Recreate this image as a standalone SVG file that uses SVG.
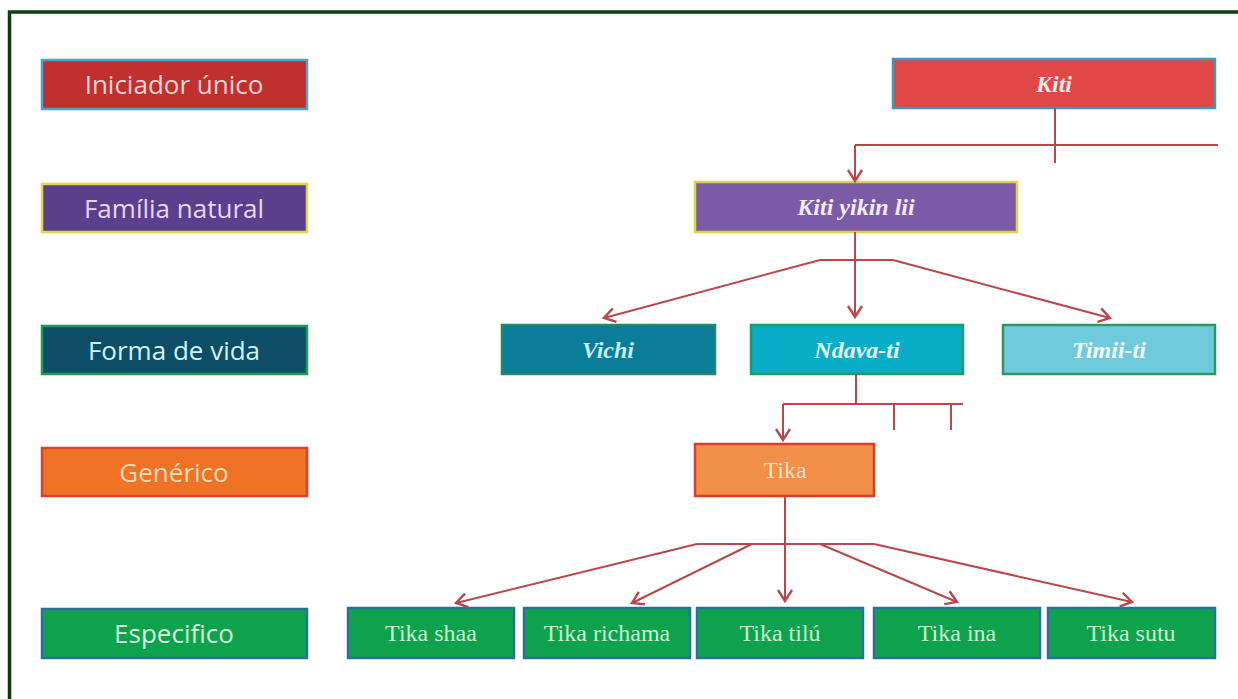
<svg xmlns="http://www.w3.org/2000/svg" width="1238" height="699" viewBox="0 0 1238 699">
<style>
.lbl{font-family:"Open Sans",Lato,"Liberation Sans",sans-serif;font-size:26px;text-anchor:middle;dominant-baseline:central}
.bi{font-family:"Liberation Serif","DejaVu Serif",serif;font-size:24px;font-weight:bold;font-style:italic;text-anchor:middle;dominant-baseline:central}
.sp{font-family:"Liberation Serif","DejaVu Serif",serif;font-size:24px;text-anchor:middle;dominant-baseline:central;fill:#c8f2d4}
.box{stroke-width:2.5}
.green{fill:#0fa24c;stroke:#2b6f9c}
.con path{fill:none;stroke:#b9474b;stroke-width:2}
</style>
<defs>
<marker id="ah" markerUnits="userSpaceOnUse" markerWidth="18" markerHeight="18" refX="14" refY="9" orient="auto">
<path d="M3,2 L14,9 L3,16" fill="none" stroke="#b9474b" stroke-width="2.4"/>
</marker>
</defs>
<rect x="0" y="0" width="1238" height="699" fill="#ffffff"/>
<rect x="9.5" y="12" width="1240" height="700" fill="none" stroke="#0b3d12" stroke-width="3.5"/>

<g id="legend-iniciador"><rect class="box" x="42" y="60" width="265" height="49" fill="#c0302f" stroke="#4aa3cc"/><text class="lbl" x="174" y="84" fill="#f8d4d2">Iniciador único</text></g>
<g id="legend-familia"><rect class="box" x="42" y="184" width="265" height="48" fill="#5a3f8c" stroke="#e0d84a"/><text class="lbl" x="174" y="208" fill="#e6d6f4">Família natural</text></g>
<g id="legend-forma"><rect class="box" x="42" y="326" width="265" height="48" fill="#0e4d66" stroke="#1d9a5a"/><text class="lbl" x="174" y="350" fill="#d2f2fa">Forma de vida</text></g>
<g id="legend-generico"><rect class="box" x="42" y="448" width="265" height="48" fill="#f07224" stroke="#e0402c"/><text class="lbl" x="174" y="472" fill="#fcdcb8">Genérico</text></g>
<g id="legend-especifico"><rect class="box" x="42" y="609" width="265" height="49" fill="#0fa24c" stroke="#2b6f9c"/><text class="lbl" x="174" y="633" fill="#d4f4dc">Especifico</text></g>

<g id="kiti"><rect class="box" x="893" y="59" width="322" height="49" fill="#e04848" stroke="#3a9bb4"/><text class="bi" x="1054" y="84" fill="#faeaea">Kiti</text></g>
<g id="kiti-yikin-lii"><rect class="box" x="695" y="182" width="322" height="50" fill="#7b5aa8" stroke="#dcd440"/><text class="bi" x="856" y="207" fill="#f4ecfa">Kiti yikin lii</text></g>
<g id="vichi"><rect class="box" x="502" y="325" width="213" height="49" fill="#0a7d98" stroke="#1f8a6a"/><text class="bi" x="608" y="350" fill="#c8eef8">Vichi</text></g>
<g id="ndava-ti"><rect class="box" x="751" y="325" width="212" height="49" fill="#0aadc8" stroke="#1f9a6a"/><text class="bi" x="857" y="350" fill="#e2f8ff">Ndava-ti</text></g>
<g id="timii-ti"><rect class="box" x="1003" y="325" width="212" height="49" fill="#6fcbdc" stroke="#2a9a62"/><text class="bi" x="1109" y="350" fill="#f2fcff">Timii-ti</text></g>
<g id="tika"><rect class="box" x="695" y="444" width="179" height="52" fill="#f28f48" stroke="#d4402a"/><text x="785" y="470" font-family="'Liberation Serif',serif" font-size="24" text-anchor="middle" dominant-baseline="central" fill="#fce0c4">Tika</text></g>

<g id="tika-shaa"><rect class="box green" x="348" y="608" width="166" height="50"/><text class="sp" x="431" y="633">Tika shaa</text></g>
<g id="tika-richama"><rect class="box green" x="524" y="608" width="166" height="50"/><text class="sp" x="607" y="633">Tika richama</text></g>
<g id="tika-tilu"><rect class="box green" x="697" y="608" width="166" height="50"/><text class="sp" x="780" y="633">Tika tilú</text></g>
<g id="tika-ina"><rect class="box green" x="874" y="608" width="166" height="50"/><text class="sp" x="957" y="633">Tika ina</text></g>
<g id="tika-sutu"><rect class="box green" x="1048" y="608" width="167" height="50"/><text class="sp" x="1131" y="633">Tika sutu</text></g>

<g id="connectors" class="con">
<path d="M1055,108 V163"/>
<path d="M855,145 H1218"/>
<path d="M855,145 V181" marker-end="url(#ah)"/>
<path d="M855,232 V317" marker-end="url(#ah)"/>
<path d="M820,260 H893"/>
<path d="M820,260 L604,318" marker-end="url(#ah)"/>
<path d="M893,260 L1110,318" marker-end="url(#ah)"/>
<path d="M856,374 V404"/>
<path d="M783,404 H963"/>
<path d="M894,404 V430"/>
<path d="M951,404 V430"/>
<path d="M783,404 V440" marker-end="url(#ah)"/>
<path d="M785,496 V601" marker-end="url(#ah)"/>
<path d="M697,544 H874"/>
<path d="M697,544 L456,603" marker-end="url(#ah)"/>
<path d="M752,544 L632,603" marker-end="url(#ah)"/>
<path d="M820,544 L957,602" marker-end="url(#ah)"/>
<path d="M874,544 L1132,602" marker-end="url(#ah)"/>
</g>
</svg>
